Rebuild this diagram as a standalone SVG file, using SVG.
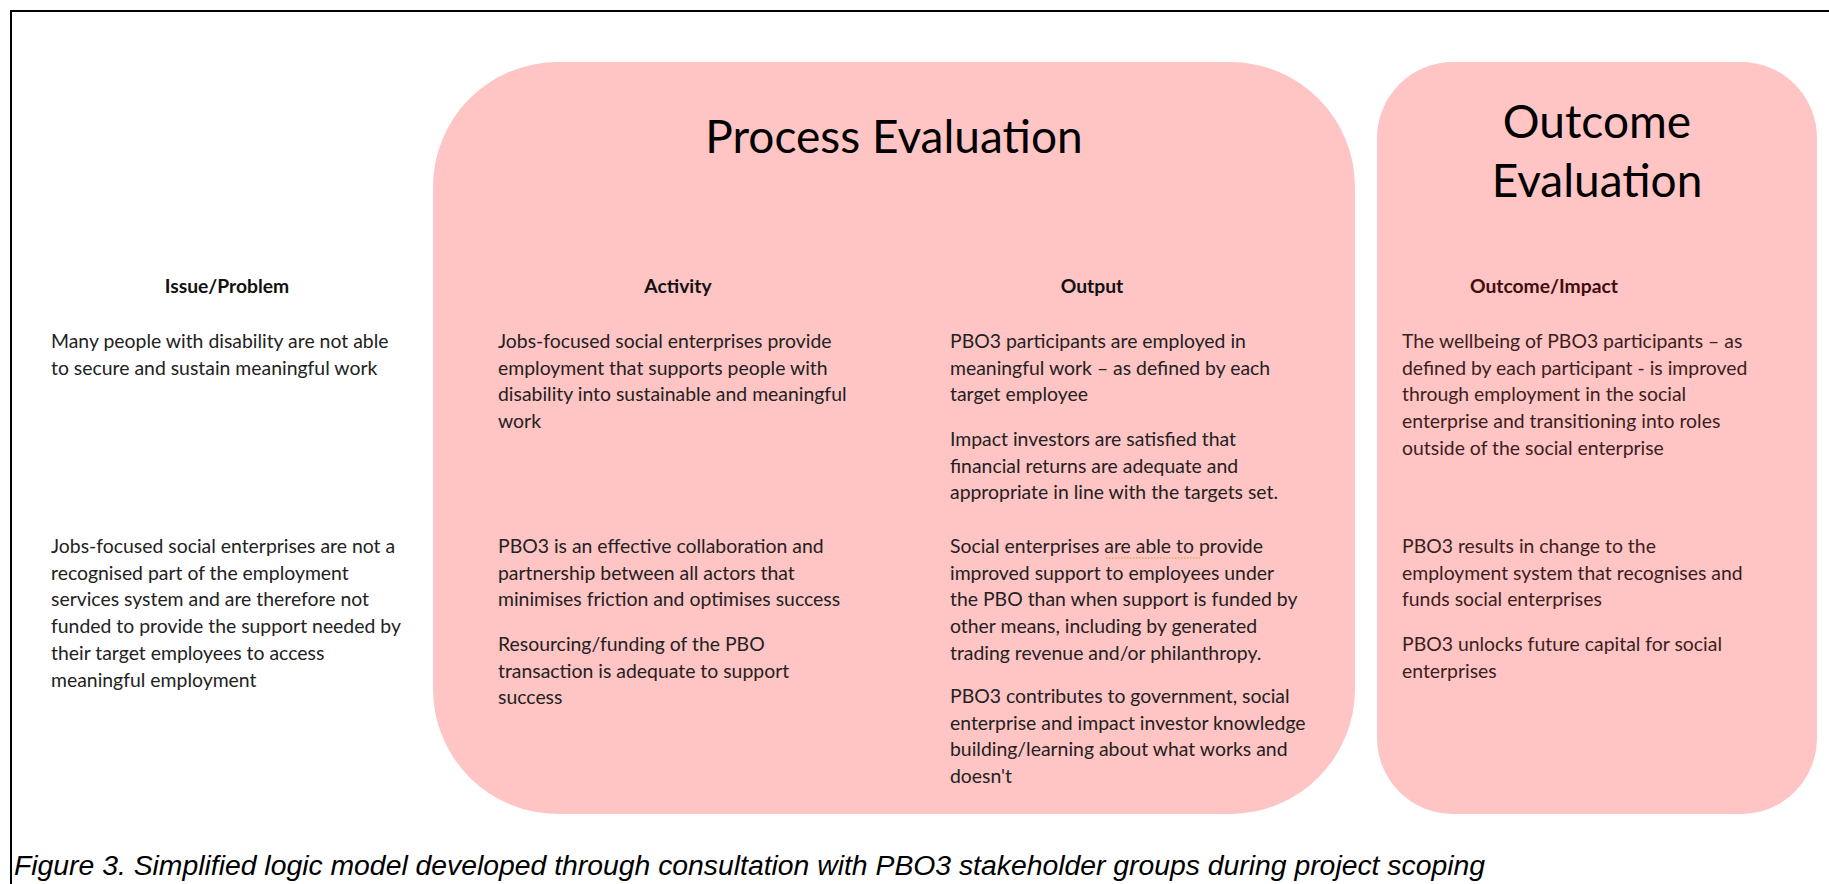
<svg xmlns="http://www.w3.org/2000/svg" width="1829" height="884" viewBox="0 0 1829 884">
<style>
.frame{fill:none;stroke:#000;stroke-width:2}
.panel{fill:#FFC4C4}
.title{font-family:Lato,"Liberation Sans",sans-serif;font-size:46px;fill:#000;text-anchor:middle}
.head{font-family:Lato,"Liberation Sans",sans-serif;font-size:19.3px;font-weight:bold;fill:#111;text-anchor:middle}
.body{font-family:Lato,"Liberation Sans",sans-serif;font-size:19.4px;fill:#222}
.out{fill:#3b1e1e}
.outhead{fill:#3f0d0d}
.cap{font-family:"Liberation Sans",Arial,sans-serif;font-style:italic;font-size:27px;fill:#000}
</style>
<path class="frame" d="M11 884 V11 H1829"/>
<g id="process-evaluation">
<rect class="panel" x="433" y="62" width="922" height="752" rx="125" ry="125"/>
<text class="title" x="894" y="153">Process Evaluation</text>
</g>
<g id="outcome-evaluation">
<rect class="panel" x="1377" y="62" width="440" height="752" rx="76" ry="76"/>
<text class="title" x="1597" y="138">Outcome</text>
<text class="title" x="1597" y="197">Evaluation</text>
</g>
<g id="issue-problem">
<text class="head" x="227" y="293">Issue/Problem</text>
<text class="body" x="51" y="348">Many people with disability are not able<tspan x="51" dy="26.7">to secure and sustain meaningful work</tspan></text>
<text class="body" x="51" y="553">Jobs-focused social enterprises are not a<tspan x="51" dy="26.7">recognised part of the employment</tspan><tspan x="51" dy="26.7">services system and are therefore not</tspan><tspan x="51" dy="26.7">funded to provide the support needed by</tspan><tspan x="51" dy="26.7">their target employees to access</tspan><tspan x="51" dy="26.7">meaningful employment</tspan></text>
</g>
<g id="activity">
<text class="head" x="678" y="293">Activity</text>
<text class="body" x="498" y="348">Jobs-focused social enterprises provide<tspan x="498" dy="26.7">employment that supports people with</tspan><tspan x="498" dy="26.7">disability into sustainable and meaningful</tspan><tspan x="498" dy="26.7">work</tspan></text>
<text class="body" x="498" y="553">PBO3 is an effective collaboration and<tspan x="498" dy="26.7">partnership between all actors that</tspan><tspan x="498" dy="26.7">minimises friction and optimises success</tspan></text>
<text class="body" x="498" y="651">Resourcing/funding of the PBO<tspan x="498" dy="26.7">transaction is adequate to support</tspan><tspan x="498" dy="26.7">success</tspan></text>
</g>
<g id="output">
<text class="head" x="1092" y="293">Output</text>
<text class="body" x="950" y="348">PBO3 participants are employed in<tspan x="950" dy="26.7">meaningful work – as defined by each</tspan><tspan x="950" dy="26.7">target employee</tspan></text>
<text class="body" x="950" y="446">Impact investors are satisfied that<tspan x="950" dy="26.7">financial returns are adequate and</tspan><tspan x="950" dy="26.7">appropriate in line with the targets set.</tspan></text>
<text class="body" x="950" y="553">Social enterprises are able to provide<tspan x="950" dy="26.7">improved support to employees under</tspan><tspan x="950" dy="26.7">the PBO than when support is funded by</tspan><tspan x="950" dy="26.7">other means, including by generated</tspan><tspan x="950" dy="26.7">trading revenue and/or philanthropy.</tspan></text>
<line x1="1106" y1="558" x2="1200" y2="558" stroke="#c9a227" stroke-width="1" stroke-dasharray="1.5 1.5"/>
<text class="body" x="950" y="703">PBO3 contributes to government, social<tspan x="950" dy="26.7">enterprise and impact investor knowledge</tspan><tspan x="950" dy="26.7">building/learning about what works and</tspan><tspan x="950" dy="26.7">doesn't</tspan></text>
</g>
<g id="outcome-impact">
<text class="head outhead" x="1544" y="293">Outcome/Impact</text>
<text class="body out" x="1402" y="348">The wellbeing of PBO3 participants – as<tspan x="1402" dy="26.7">defined by each participant - is improved</tspan><tspan x="1402" dy="26.7">through employment in the social</tspan><tspan x="1402" dy="26.7">enterprise and transitioning into roles</tspan><tspan x="1402" dy="26.7">outside of the social enterprise</tspan></text>
<text class="body out" x="1402" y="553">PBO3 results in change to the<tspan x="1402" dy="26.7">employment system that recognises and</tspan><tspan x="1402" dy="26.7">funds social enterprises</tspan></text>
<text class="body out" x="1402" y="651">PBO3 unlocks future capital for social<tspan x="1402" dy="26.7">enterprises</tspan></text>
</g>
<g id="caption">
<text class="cap" x="14" y="875" textLength="1471" lengthAdjust="spacingAndGlyphs">Figure 3. Simplified logic model developed through consultation with PBO3 stakeholder groups during project scoping</text>
</g>
</svg>
